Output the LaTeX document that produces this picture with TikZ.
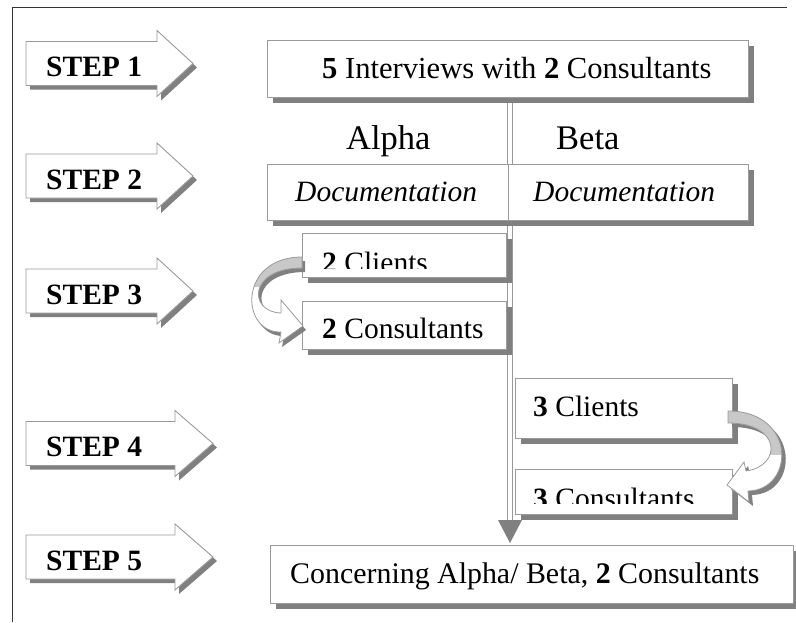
\documentclass[tikz,border=0pt]{standalone}
\usepackage{fontspec}
\setmainfont{Liberation Serif}
\usetikzlibrary{shadows}
\pgfdeclarelayer{back}
\pgfdeclarelayer{bg}
\pgfsetlayers{back,bg,main}
\definecolor{shd}{HTML}{808080}
\definecolor{edge}{HTML}{9A9A9A}
\definecolor{lite}{HTML}{C8C8C8}
\definecolor{frame}{HTML}{333333}
\newcommand\StepArrow[5]{%
  \path[fill=shd, shift={(4,4)}] (26,#1-22) -- (#2,#1-22) -- (#2,#1-33) -- (#3,#1) -- (#2,#1+33) -- (#2,#1+22) -- (26,#1+22) -- cycle;
  \path[sarrow] (26,#1-22) -- (#2,#1-22) -- (#2,#1-33) -- (#3,#1) -- (#2,#1+33) -- (#2,#1+22) -- (26,#1+22) -- cycle;
  \node[txt, font=\fontsize{29.5}{32}\selectfont\bfseries] (#5) at (46,#1+13) {#4};
}
\begin{document}
\begin{tikzpicture}[x=1pt,y=-1pt,
  box/.style={draw=edge, line width=0.9pt, fill=white, inner sep=0pt, anchor=north west,
     general shadow={fill=shd, shadow xshift=6pt, shadow yshift=-6pt}},
  txt/.style={anchor=base west, inner sep=0pt, font=\fontsize{29.5}{32}\selectfont},
  big/.style={anchor=base west, inner sep=0pt, font=\fontsize{34.5}{38}\selectfont},
  sarrow/.style={draw=edge, line width=0.9pt, fill=white},
  curv/.style={draw=edge, line width=0.8pt},
]
\useasboundingbox (0,0) rectangle (796,622);
\begin{pgfonlayer}{back}
\fill[white] (0,0) rectangle (796,622);
\end{pgfonlayer}
\draw[frame, line width=1pt] (12,622) -- (12,7) -- (787,7);

% step arrows
\StepArrow{63.5}{157}{193}{STEP 1}{s1}
\StepArrow{176}{157}{193}{STEP 2}{s2}
\StepArrow{291}{157}{193}{STEP 3}{s3}
\StepArrow{443.5}{175}{213}{STEP 4}{s4}
\StepArrow{557}{175}{213}{STEP 5}{s5}

% boxes
\node[box, minimum width=481pt, minimum height=57pt] (b1) at (267,40) {};
\node[box, minimum width=241pt, minimum height=56pt] (b2a) at (267,164) {};
\node[box, minimum width=240pt, minimum height=56pt] (b2b) at (508,164) {};
\node[box, minimum width=204pt, minimum height=44pt] (b3a) at (302,233) {};
\node[box, minimum width=204pt, minimum height=48pt] (b3b) at (302,301) {};
\node[box, minimum width=217pt, minimum height=60pt] (b4a) at (515,378) {};
\node[box, minimum width=217pt, minimum height=45pt] (b4b) at (515,469) {};
\node[box, minimum width=523pt, minimum height=58pt] (b5) at (270,545) {};

% main shaft
\coordinate (ht) at (510,520);
\coordinate (tip) at (510,543);
\begin{pgfonlayer}{bg}
\draw[draw=edge, line width=0.9pt, double=white, double distance=4.6pt] (b1.south -| ht) -- (ht);
\end{pgfonlayer}
\fill[shd] ([xshift=-12pt]ht) -- ([xshift=12pt]ht) -- (tip) -- cycle;

% curved arrow step 3
\fill[shd, shift={(3,4)}] (302,257) .. controls (238,257) and (240,333) .. (281,332) -- (279,343) -- (303,326) -- (281,300) -- (281,313) .. controls (248,312) and (248,268) .. (302,268) -- cycle;
\fill[white] (302,257) .. controls (238,257) and (240,333) .. (281,332) -- (279,343) -- (303,326) -- (281,300) -- (281,313) .. controls (248,312) and (248,268) .. (302,268) -- cycle;
\begin{scope}
\clip (302,257) .. controls (238,257) and (240,333) .. (281,332) -- (279,343) -- (303,326) -- (281,300) -- (281,313) .. controls (248,312) and (248,268) .. (302,268) -- cycle;
\fill[lite] (230,240) rectangle (310,287);
\end{scope}
\draw[curv] (302,257) .. controls (238,257) and (240,333) .. (281,332) -- (279,343) -- (303,326) -- (281,300) -- (281,313) .. controls (248,312) and (248,268) .. (302,268) -- cycle;

% curved arrow step 4
\fill[shd, shift={(4,4)}] (728,411) .. controls (797,411) and (795,490) .. (748,491) -- (749,502) -- (727,485) -- (744,462) -- (746,471) .. controls (782,466) and (782,423) .. (728,423) -- cycle;
\fill[white] (728,411) .. controls (797,411) and (795,490) .. (748,491) -- (749,502) -- (727,485) -- (744,462) -- (746,471) .. controls (782,466) and (782,423) .. (728,423) -- cycle;
\begin{scope}
\clip (728,411) .. controls (797,411) and (795,490) .. (748,491) -- (749,502) -- (727,485) -- (744,462) -- (746,471) .. controls (782,466) and (782,423) .. (728,423) -- cycle;
\fill[lite] (720,400) rectangle (800,455);
\end{scope}
\draw[curv] (728,411) .. controls (797,411) and (795,490) .. (748,491) -- (749,502) -- (727,485) -- (744,462) -- (746,471) .. controls (782,466) and (782,423) .. (728,423) -- cycle;

% texts
\node[txt, font=\fontsize{30.6}{32}\selectfont] (t1) at (322,78) {\textbf{5} Interviews with \textbf{2} Consultants};
\node[big] (alpha) at (346,149) {Alpha};
\node[big] (beta) at (556,149) {Beta};
\node[txt] (t2a) at (295,201) {\itshape Documentation};
\node[txt] (t2b) at (533,201) {\itshape Documentation};
\begin{scope}
\clip (303,234) rectangle (505,268);
\node[txt] (t3a) at (322,272) {\textbf{2} Clients};
\end{scope}
\node[txt] (t3b) at (322,338) {\textbf{2} Consultants};
\node[txt] (t4a) at (533,416) {\textbf{3} Clients};
\begin{scope}
\clip (516,470) rectangle (731,503);
\node[txt] (t4b) at (533,508) {\textbf{3} Consultants};
\end{scope}
\node[txt, font=\fontsize{29.9}{32}\selectfont] (t5) at (290,583) {Concerning Alpha/ Beta, \textbf{2} Consultants};
\end{tikzpicture}
\end{document}
